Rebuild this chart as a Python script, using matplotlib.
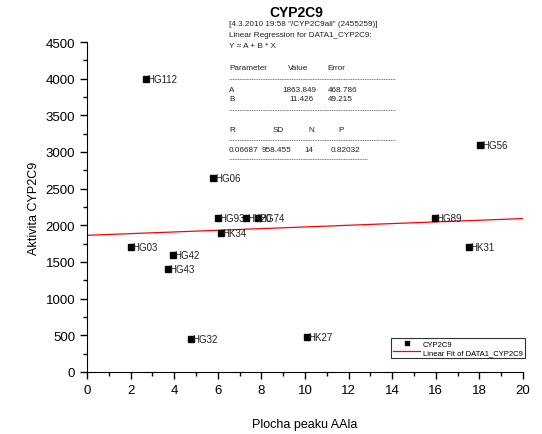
import numpy as np
import matplotlib.pyplot as plt
from matplotlib.lines import Line2D

plt.rcParams['font.family'] = ['Liberation Sans', 'DejaVu Sans']

# data
labels = ['HG112', 'HG06', 'HG93', 'HK20', 'HG74', 'HK34', 'HG03', 'HG42',
          'HG43', 'HG32', 'HK27', 'HG56', 'HG89', 'HK31']
plocha = [2.7, 5.8, 6.0, 7.3, 7.85, 6.15, 2.0, 3.95, 3.7, 4.75, 10.1, 18.05, 15.95, 17.5]
aktivita = [4000, 2650, 2100, 2100, 2100, 1900, 1700, 1600, 1400, 450, 480, 3100, 2100, 1700]

fit_a = 1863.849
fit_b = 11.426

W, H = 542, 435
fig = plt.figure(figsize=(W / 100, H / 100), dpi=100)
ax = fig.add_axes([87 / W, 1 - 373 / H, (523 - 87) / W, (373 - 43) / H])

ax.plot(plocha, aktivita, 's', color='black', markersize=4, label='CYP2C9', zorder=3)
for x, y, t in zip(plocha, aktivita, labels):
    ax.annotate(t, (x, y), xytext=(1, 0), textcoords='offset points',
                va='center', ha='left', fontsize=7, color='#222222')

xf = np.array([0, 20])
ax.plot(xf, fit_a + fit_b * xf, color='red', lw=0.9, label='Linear Fit of DATA1_CYP2C9')

ax.set_xlim(0, 20)
ax.set_ylim(0, 4500)
ax.set_xticks(range(0, 21, 2))
ax.set_yticks(range(0, 4501, 500))
ax.set_xticks(range(1, 20, 2), minor=True)
ax.set_yticks(range(250, 4500, 500), minor=True)
ax.tick_params(which='major', direction='out', length=5, width=1, labelsize=9.5)
ax.tick_params(which='minor', direction='out', length=3, width=1)
for s in ['right', 'top']:
    ax.spines[s].set_visible(False)
ax.set_xlabel('Plocha peaku AAla', fontsize=9, labelpad=16)
ax.set_ylabel('Aktivita CYP2C9', fontsize=9, labelpad=4)

leg = ax.legend(loc='lower right', bbox_to_anchor=(529 / W, 1 - 363 / H),
                bbox_transform=fig.transFigure, fontsize=5.5, frameon=True,
                fancybox=False, edgecolor='black', handlelength=3.5,
                borderpad=0.3, labelspacing=0.1, handletextpad=0.4, markerscale=0.7)
leg.get_frame().set_linewidth(0.8)

fig.text(296 / W, 1 - 13 / H, 'CYP2C9', fontsize=10, fontweight='bold', ha='center', va='center')

def ftext(x, y, s, ha='left'):
    fig.text(x / W, 1 - y / H, s, fontsize=5.9, ha=ha, va='center', color='#222222')

def dash(x0, x1, y):
    fig.add_artist(Line2D([x0 / W, x1 / W], [1 - y / H, 1 - y / H], lw=0.5,
                          color='#444444', linestyle=(0, (1.5, 1))))

ftext(229, 25, '[4.3.2010 19:58 "/CYP2C9all" (2455259)]')
ftext(229, 36, 'Linear Regression for DATA1_CYP2C9:')
ftext(229, 46, 'Y = A + B * X')
ftext(229, 69, 'Parameter')
ftext(288, 69, 'Value')
ftext(327, 69, 'Error')
dash(229, 395, 80)
ftext(229, 90, 'A')
ftext(316, 90, '1863.849', ha='right')
ftext(328, 90, '468.786')
ftext(229, 100, 'B')
ftext(314, 100, '11.426', ha='right')
ftext(328, 100, '49.215')
dash(229, 395, 111)
ftext(229, 130, 'R')
ftext(273, 130, 'SD')
ftext(308, 130, 'N')
ftext(338, 130, 'P')
dash(229, 395, 141)
ftext(229, 151, '0.06687')
ftext(262, 151, '958.455')
ftext(304, 151, '14')
ftext(331, 151, '0.82032')
dash(229, 367, 160)

fig.savefig('out.png', dpi=100)
